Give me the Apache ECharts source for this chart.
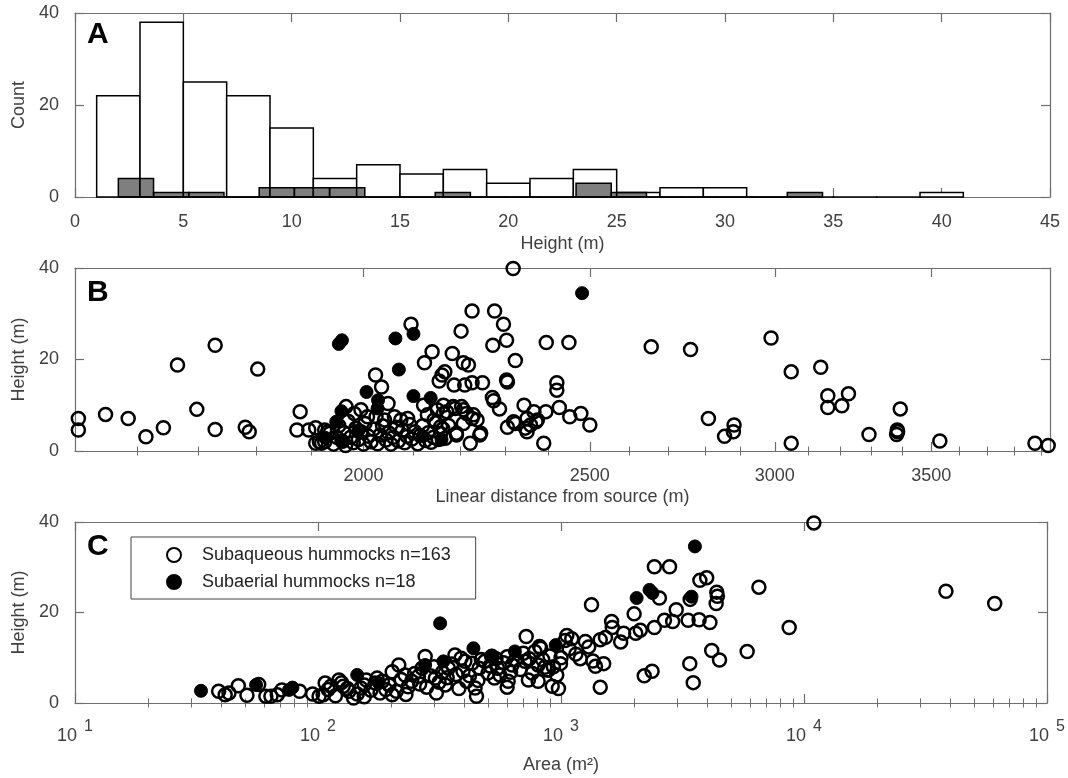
<!DOCTYPE html>
<html>
<head>
<meta charset="utf-8">
<script src="https://cdn.jsdelivr.net/npm/echarts@6/dist/echarts.min.js"></script>
<style>
html,body{margin:0;padding:0;background:#fff;}
#chart{width:1068px;height:778px;}
</style>
</head>
<body>
<div id="chart"></div>
<script>
// ---------- Panel A: histogram data ----------
const aqueousBinEdges = [1,3,5,7,9,11,13,15,17,19,21,23,25,27,29,31,33,35,37,39,41];
const aqueousCounts   = [22,38,25,22,15,4,7,5,6,3,4,6,1,2,2,0,0,0,0,1];
const aerialBinEdges  = [2,3.625,5.25,6.875,8.5,10.125,11.75,13.375,15,16.625,18.25,19.875,21.5,23.125,24.75,26.375,28,29.625,31.25,32.875,34.5];
const aerialCounts    = [4,1,1,0,2,2,2,0,0,1,0,0,0,3,1,0,0,0,0,1];

// ---------- Panel B: distance (m) vs height (m) ----------
const distAqueous = [
[1510,7.1],[1510,4.6],[1551,8.0],[1586,7.1],[1614,3.1],[1642,5.1],[1665,18.8],[1697,9.1],[1728,23.1],[1728,4.7],
[1780,5.2],[1787,4.2],[1802,17.9],[1879,8.6],[1873,4.6],[1895,4.6],[1908,5.1],[1908,1.7],[1919,1.7],[1931,4.2],
[2318,39.9],[2226,30.6],[2276,30.6],[2296,27.7],[2096,27.7],[2202,26.2],[2303,24.2],[2272,23.1],[2395,23.7],[2449,23.7],
[2140,21.7],[2124,19.3],[2183,21.3],[2207,19.3],[2218,18.8],[2323,19.8],[2167,17.3],[2161,16.6],[2155,15.3],[2187,14.4],
[2210,14.4],[2226,14.9],[2249,14.9],[2303,15.5],[2305,15.1],[2024,16.6],[2036,14.0],[2420,14.9],[2420,13.3],[2271,11.7],
[2274,11.0],[2287,9.2],[2343,10.0],[2426,9.5],[2451,7.5],[2478,8.2],[2500,5.7],[2389,1.7],[2350,7.1],[2366,8.6],
[2358,5.7],[2346,5.0],[2319,6.4],[2305,5.2],[2374,6.8],[2394,8.6],[2243,3.5],[2222,1.7],[2192,3.5],[2207,6.0],
[2226,7.1],[2237,6.8],[2207,9.0],[2189,9.3],[2171,8.6],[2164,10.0],[2164,8.2],[1925,4.6],
[1915,2.0],[1925,2.0],[1935,3.9],[1966,9.7],[1982,8.2],[1995,9.0],[2008,7.5],[2049,10.4],[2025,7.5],[2042,6.8],
[2062,7.5],[2075,6.8],[2089,7.1],[2122,10.0],[2151,9.0],[2158,5.3],[2130,7.9],[2144,6.8],[2185,9.7],[2203,9.7],
[2214,8.2],[2229,7.9],[2192,3.9],[2245,3.9],
[2656,22.8],[2761,22.2],[2989,24.7],[3049,17.3],[3139,18.3],[3161,12.1],[3226,12.5],[3161,9.5],[3205,9.9],[3395,9.2],
[2810,7.1],[2882,5.7],[2880,4.2],[2855,3.2],[3049,1.7],[3292,3.6],[3383,3.6],[3386,4.2],[3385,4.6],[3530,2.2],
[3877,1.7],[3928,1.2],[2323,6.0],[2350,4.2],[2371,6.4],
[1942,1.5],[1948,3.0],[1952,5.5],[1958,2.2],[1962,4.0],[1965,1.2],[1970,6.5],[1975,3.0],[1980,1.8],[1985,5.0],
[1990,2.5],[1995,4.2],[2000,1.5],[2003,6.0],[2010,3.2],[2015,2.0],[2020,4.8],[2028,1.6],[2033,3.5],[2038,5.5],
[2045,2.4],[2050,4.0],[2055,1.5],[2060,3.0],[2066,5.2],[2070,2.2],[2078,4.5],[2083,1.8],[2088,3.2],[2093,5.8],
[2098,2.6],[2104,4.2],[2110,1.6],[2115,3.4],[2120,5.5],[2126,2.3],[2132,4.0],[2138,1.9],[2143,3.0],[2148,6.2],
[2153,2.5],[2158,3.8],[2163,4.8],[2168,2.8],[2175,5.6]
];
const distAerial = [
[2481,34.5],[2101,25.6],[2064,24.6],[1958,24.2],[1952,23.4],[2071,17.8],[2006,12.9],[2101,12.0],[2137,11.6],[2029,11.1],
[2028,9.3],[1957,8.7],[1947,6.4],[1990,4.5],[1926,2.9],[2120,3.2],[2160,2.5],[1960,2.0]
];
const distMajorTicks = [2000,2500,3000,3500];
const distMinorTicks = [1600,1700,1800,1900,2100,2200,2300,2400,2600,2700,2800,2900,3100,3200,3300,3400,3600,3700,3800,3900];

// ---------- Panel C: area (m^2) vs height (m) ----------
const areaAqueous = [
[39,2.6],[41.5,1.8],[43,2.2],[47,3.8],[51,1.7],[57,4.1],[61,1.5],[64,1.5],[68,1.8],[71,2.9],
[84,2.6],[101,1.5],[105,1.8],[107,4.4],[113,3.7],[122,5.1],[127,3.7],[134,2.6],[140,1.1],[150,3.3],
[158,5.1],[172,4.4],[184,4.8],[202,1.8],[202,6.9],[215,8.4],[228,6.2],[243,4.8],[259,5.9],[268,7.7],
[276,10.3],[304,5.5],[307,2.2],[334,4.0],[344,7.7],[366,10.6],[388,9.9],[402,9.2],[409,4.8],[443,3.3],
[449,1.5],[460,7.7],[485,9.2],[518,10.3],[532,5.5],[548,7.7],[606,4.8],[629,8.4],[710,9.2],[719,14.7],
[734,5.1],[805,8.4],[816,12.5],[879,7.3],[920,3.7],
[825,12.1],[857,7.9],[887,7.3],[976,3.2],[995,8.7],[1040,13.8],[1057,14.9],[1107,14.2],[1151,10.8],[1259,13.6],
[1335,21.7],[1352,9.3],[1386,8.1],[1450,3.5],[1450,14.0],[1498,8.7],[1524,14.5],[1615,18.0],[1625,16.7],[1760,13.5],
[1810,15.4],[1999,19.7],[2030,15.4],[2120,16.1],[2200,6.0],[2370,7.0],[2422,30.1],[2422,16.7],[2540,23.2],[2665,18.3],
[2797,30.1],[2880,18.0],[2979,20.6],[3334,18.3],[3387,8.7],[3400,22.9],[3500,4.5],[3700,18.4],[3727,27.1],[3975,27.7],
[4100,17.8],[4170,11.6],[4375,24.5],[4400,23.6],[4350,22.0],[4490,9.5],[5834,11.4],[6521,25.6],[8688,16.7],[10975,39.8],
[38370,24.7],[60900,22.0],[805,4.8],
[95,2.0],[110,3.0],[118,1.6],[125,4.5],[132,3.2],[145,2.0],[155,4.0],[165,2.8],[175,5.5],[190,3.0],
[196,4.0],[210,2.6],[220,5.2],[235,3.6],[250,6.5],[262,4.2],[280,3.5],[290,6.0],[300,8.0],[315,4.6],
[325,6.8],[340,5.6],[355,8.6],[370,6.3],[380,3.2],[395,7.0],[420,6.0],[430,8.8],[455,5.0],[470,9.6],
[500,6.6],[510,8.2],[540,9.8],[560,6.2],[580,8.9],[600,10.2],[620,6.8],[650,9.6],[680,7.4],[700,11.0],
[740,9.8],[760,6.6],[780,11.4],[840,9.6],[900,10.4],[930,8.0],[960,6.2],[1000,10.0],[1080,12.0],[1200,9.8],
[1300,12.4],[155,1.4],[180,2.2],[230,1.9],[600,3.5]
];
const areaAerial = [
[33,2.7],[55.6,4.0],[78.5,3.4],[76,2.9],[145,6.2],[178,4.4],[318,17.6],[436,12.1],[328,9.2],[276,8.4],
[646,11.4],[951,12.8],[3556,34.6],[2313,25.0],[2380,24.3],[2047,23.2],[3443,23.5],[520,10.5]
];
const areaMajorTicks = [10,100,1000,10000,100000];
const areaMinorTicks = [20,30,40,50,60,70,80,90,200,300,400,500,600,700,800,900,2000,3000,4000,5000,6000,7000,8000,9000,20000,30000,40000,50000,60000,70000,80000,90000];

const seriesNames = ['Subaqueous hummocks n=163','Subaerial hummocks n=18'];

// ---------- styling ----------
const FONT = 'Liberation Sans, Arial, Helvetica, sans-serif';
const AX = '#6e6e6e';
const TXT = '#404040';
const MAJ = 9, MIN = 4.5;

const chart = echarts.init(document.getElementById('chart'), null, {renderer:'canvas'});

const grids = [
  {left:75, right:18, top:13, height:184},
  {left:75, right:18, top:268, height:183},
  {left:75, right:17, top:522, height:181}
];

function xAxisBase(gridIndex, position, extra) {
  return Object.assign({
    gridIndex, position,
    axisLine:{show:true, onZero:false, lineStyle:{color:AX, width:1.2}},
    axisTick:{show:true, inside:true, length:MAJ, lineStyle:{color:AX, width:1.2}},
    axisLabel:{show:false},
    splitLine:{show:false}
  }, extra);
}
function yAxisBase(gridIndex, position, extra) {
  return Object.assign({
    gridIndex, position, type:'value', min:0, max:40, interval:20,
    axisLine:{show:true, onZero:false, lineStyle:{color:AX, width:1.2}},
    axisTick:{show:true, inside:true, length:MAJ, lineStyle:{color:AX, width:1.2}},
    axisLabel:{show:false},
    splitLine:{show:false}
  }, extra);
}
const labelStyle = {show:true, color:TXT, fontSize:18, fontFamily:FONT};
const nameStyle = {color:TXT, fontSize:18, fontFamily:FONT};
function tickStyle(len, vals, w) {
  return {show:true, inside:true, length:len, customValues:vals, lineStyle:{color:AX, width:w}};
}

const xAxes = [
  // A
  xAxisBase(0,'bottom',{type:'value', min:0, max:45, interval:5,
    axisLabel:Object.assign({margin:16}, labelStyle),
    name:'Height (m)', nameLocation:'middle', nameGap:38, nameTextStyle:nameStyle}),
  xAxisBase(0,'top',{type:'value', min:0, max:45, interval:5}),
  // B
  xAxisBase(1,'bottom',{type:'log', logBase:10, min:1505, max:3935,
    axisTick:tickStyle(MAJ, distMajorTicks, 1.2),
    axisLabel:Object.assign({margin:16, customValues:distMajorTicks, formatter:v=>String(Math.round(v))}, labelStyle),
    name:'Linear distance from source (m)', nameLocation:'middle', nameGap:37, nameTextStyle:nameStyle}),
  xAxisBase(1,'top',{type:'log', logBase:10, min:1505, max:3935,
    axisTick:tickStyle(MAJ, distMajorTicks, 1.2),
    axisLabel:{show:false, customValues:distMajorTicks}}),
  xAxisBase(1,'bottom',{type:'log', logBase:10, min:1505, max:3935, axisLine:{show:false},
    axisTick:tickStyle(MIN, distMinorTicks, 1),
    axisLabel:{show:false, customValues:distMinorTicks}}),
  xAxisBase(1,'top',{type:'log', logBase:10, min:1505, max:3935, axisLine:{show:false},
    axisTick:tickStyle(MIN, distMinorTicks, 1),
    axisLabel:{show:false, customValues:distMinorTicks}}),
  // C
  xAxisBase(2,'bottom',{type:'log', logBase:10, min:10, max:100000,
    axisTick:tickStyle(MAJ, areaMajorTicks, 1.2),
    axisLabel:{show:true, margin:14, customValues:areaMajorTicks,
      formatter:v=>'{b|10}{s|' + Math.round(Math.log10(v)) + '}',
      rich:{b:{fontSize:18, fontFamily:FONT, color:TXT, padding:[10,0,0,0]},
            s:{fontSize:16, fontFamily:FONT, color:TXT, padding:[0,0,9,7]}}},
    name:'Area (m\u00B2)', nameLocation:'middle', nameGap:53, nameTextStyle:nameStyle}),
  xAxisBase(2,'top',{type:'log', logBase:10, min:10, max:100000,
    axisTick:tickStyle(MAJ, areaMajorTicks, 1.2),
    axisLabel:{show:false, customValues:areaMajorTicks}}),
  xAxisBase(2,'bottom',{type:'log', logBase:10, min:10, max:100000, axisLine:{show:false},
    axisTick:tickStyle(MIN, areaMinorTicks, 1),
    axisLabel:{show:false, customValues:areaMinorTicks}}),
  xAxisBase(2,'top',{type:'log', logBase:10, min:10, max:100000, axisLine:{show:false},
    axisTick:tickStyle(MIN, areaMinorTicks, 1),
    axisLabel:{show:false, customValues:areaMinorTicks}})
];

const yAxes = [
  yAxisBase(0,'left',{axisLabel:Object.assign({margin:16}, labelStyle),
    name:'Count', nameLocation:'middle', nameGap:46, nameTextStyle:nameStyle}),
  yAxisBase(0,'right',{}),
  yAxisBase(1,'left',{axisLabel:Object.assign({margin:16}, labelStyle),
    name:'Height (m)', nameLocation:'middle', nameGap:45, nameTextStyle:nameStyle}),
  yAxisBase(1,'right',{}),
  yAxisBase(2,'left',{axisLabel:Object.assign({margin:16}, labelStyle),
    name:'Height (m)', nameLocation:'middle', nameGap:45, nameTextStyle:nameStyle}),
  yAxisBase(2,'right',{})
];

function histSeries(edges, counts, fill, z) {
  const data = counts.map((c,i)=>[edges[i], edges[i+1], c]);
  return {
    type:'custom', xAxisIndex:0, yAxisIndex:0, z:z, silent:true,
    encode:{x:[0,1], y:2}, data:data,
    renderItem:function(params, api){
      const p0 = api.coord([api.value(0), api.value(2)]);
      const p1 = api.coord([api.value(1), 0]);
      return {type:'rect',
        shape:{x:p0[0], y:p0[1], width:p1[0]-p0[0], height:Math.max(p1[1]-p0[1], 0.01)},
        style:{fill:fill, stroke:'#000', lineWidth:1.5}};
    }
  };
}

const openStyle = {color:'rgba(255,255,255,0)', borderColor:'#000', borderWidth:2.5, opacity:1};
const fillStyle = {color:'#000', borderColor:'#000', borderWidth:1, opacity:1};

function scatter(name, data, xi, yi, style, z) {
  return {type:'scatter', name:name, data:data, xAxisIndex:xi, yAxisIndex:yi,
    symbol:'circle', symbolSize:13, itemStyle:style, clip:false, z:z, silent:true,
    emphasis:{disabled:true}};
}

const option = {
  backgroundColor:'#fff',
  animation:false,
  grid:grids,
  xAxis:xAxes,
  yAxis:yAxes,
  legend:{
    left:131, top:537, orient:'vertical',
    data:seriesNames,
    itemWidth:14, itemHeight:14, itemGap:5,
    padding:[7,25,6,35],
    borderColor:'#444', borderWidth:1, backgroundColor:'#fff',
    textStyle:{fontSize:18, lineHeight:22, fontFamily:FONT, color:'#222', padding:[0,0,0,16]},
    selectedMode:false
  },
  graphic:[
    {type:'text', left:87, top:19.5, style:{text:'A', font:'bold 30px '+FONT, fill:'#000'}},
    {type:'text', left:87, top:277.5, style:{text:'B', font:'bold 30px '+FONT, fill:'#000'}},
    {type:'text', left:87, top:531.5, style:{text:'C', font:'bold 30px '+FONT, fill:'#000'}}
  ],
  series:[
    histSeries(aqueousBinEdges, aqueousCounts, '#ffffff', 2),
    histSeries(aerialBinEdges, aerialCounts, 'rgba(0,0,0,0.5)', 3),
    scatter(seriesNames[0], distAqueous, 2, 2, openStyle, 4),
    scatter(seriesNames[1], distAerial, 2, 2, fillStyle, 5),
    scatter(seriesNames[0], areaAqueous, 6, 4, openStyle, 4),
    scatter(seriesNames[1], areaAerial, 6, 4, fillStyle, 5)
  ]
};
chart.setOption(option);
</script>
</body>
</html>
